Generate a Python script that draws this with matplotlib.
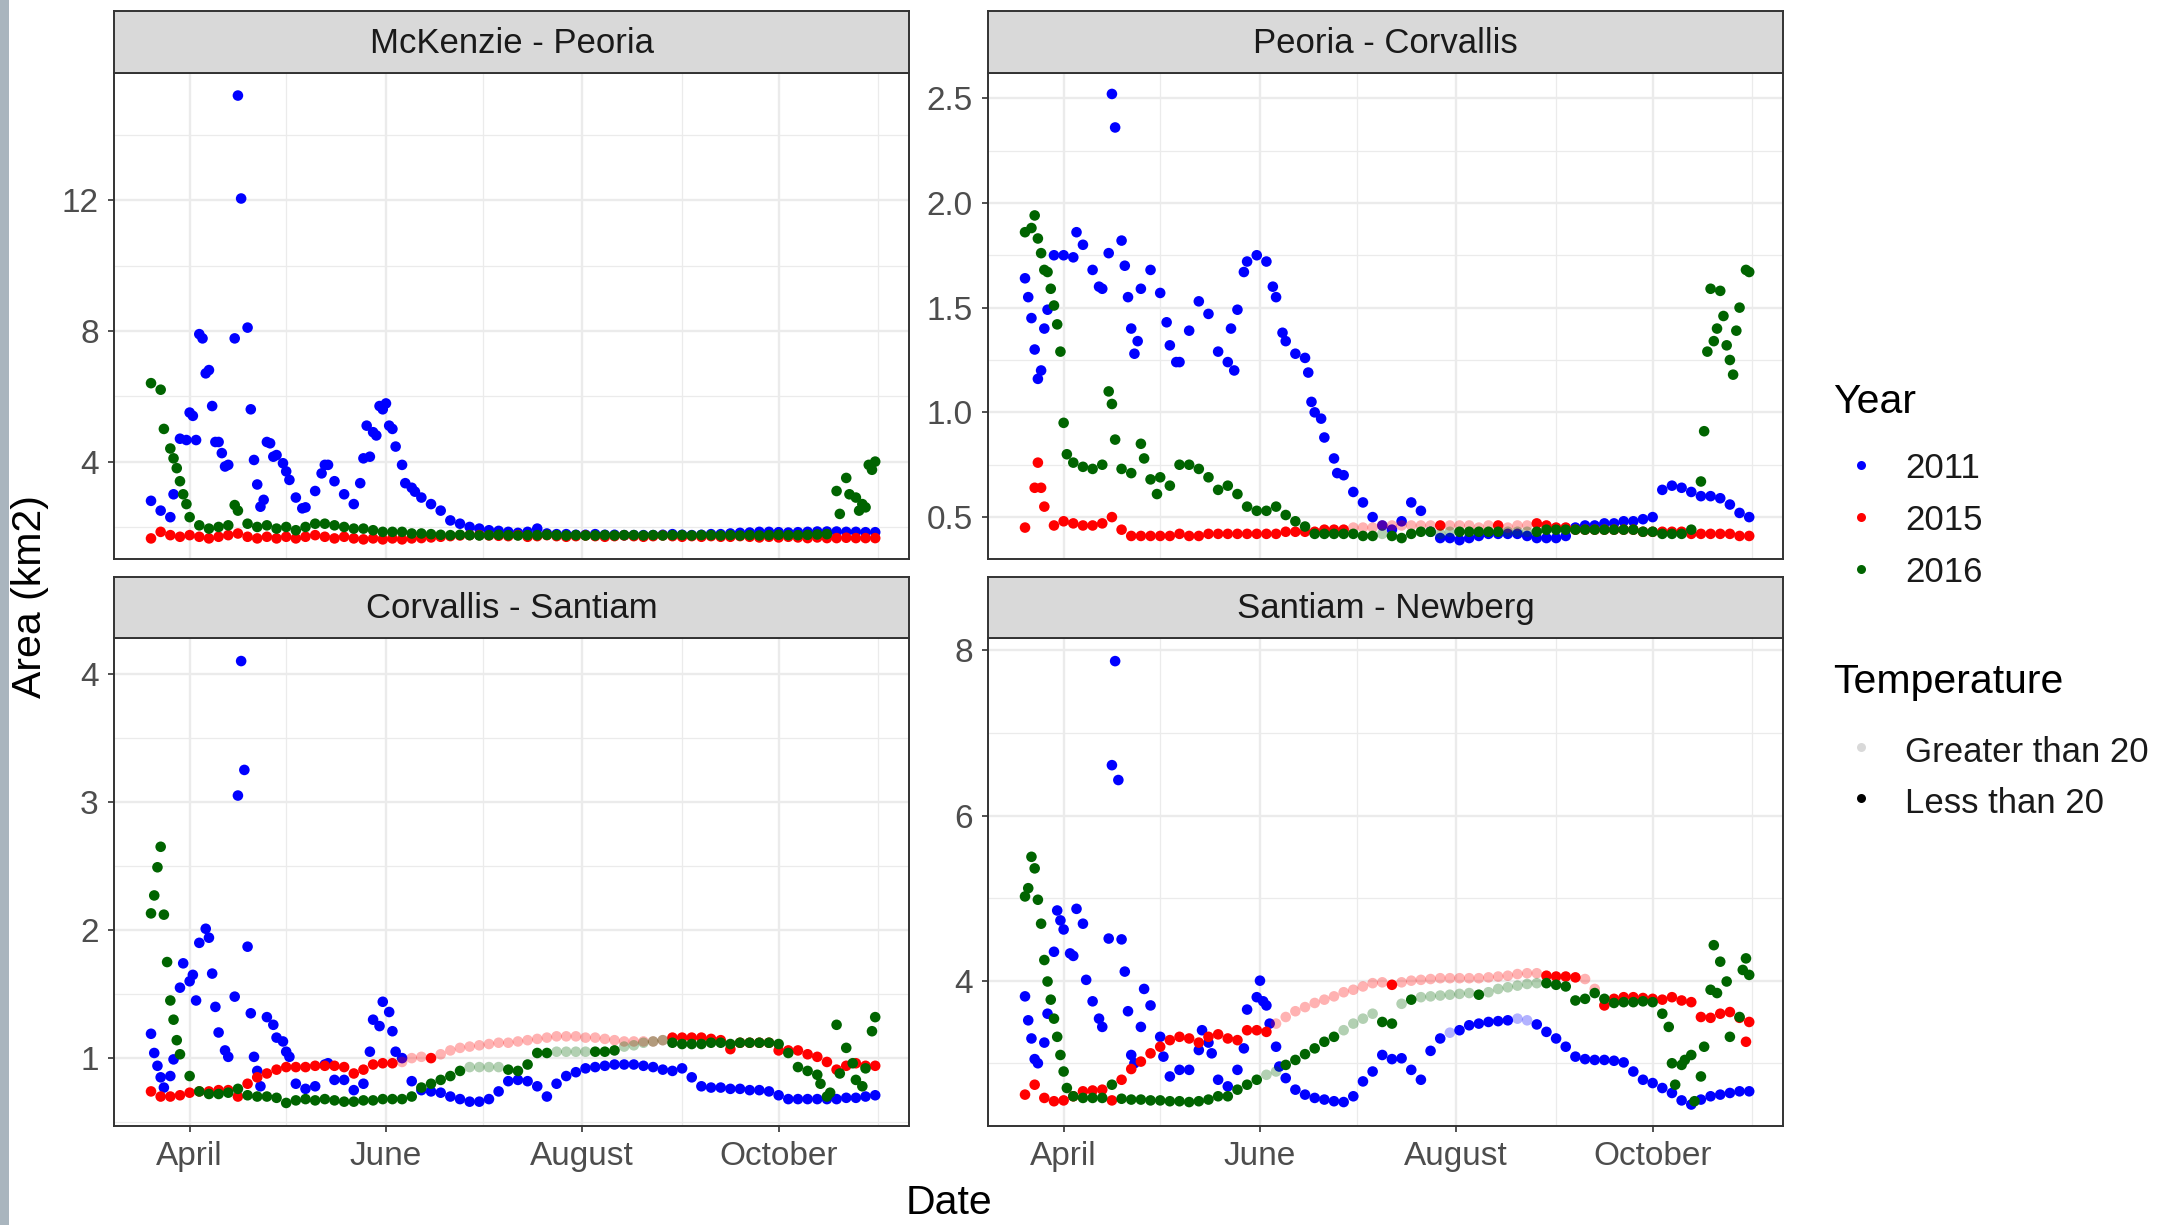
import numpy as np
import matplotlib
matplotlib.use("Agg")
import matplotlib.pyplot as plt
from matplotlib.colors import to_rgba
from matplotlib.patches import Rectangle

plt.rcParams['font.family'] = ['Liberation Sans', 'DejaVu Sans']

W, H = 2164, 1225

# sampling days, counted from 1 April (every third day, 20 March .. 31 October)
days = np.arange(-12, 214, 3)

month_major = [0, 61, 122, 183]
month_major_labels = ['April', 'June', 'August', 'October']
month_minor = [30, 91, 153, 214]

years = ['2011', '2015', '2016']
year_colors = ['#0000FF', '#FF0000', '#006400']

# ---- McKenzie - Peoria ----
mp_2011 = [2.8, 2.5, 2.3, 4.7, 5.5, 7.9, 6.8, 4.6, 3.9, 15.2,
           8.1, 3.3, 4.6, 4.2, 3.7, 2.9, 2.6, 3.1, 3.9, 3.4,
           3.0, 2.7, 4.1, 4.9, 5.6, 5.0, 3.9, 3.2, 2.9, 2.7,
           2.5, 2.2, 2.1, 2.0, 1.95, 1.9, 1.88, 1.85, 1.82, 1.85,
           1.95, 1.8, 1.78, 1.78, 1.76, 1.76, 1.78, 1.76, 1.76, 1.75,
           1.75, 1.75, 1.75, 1.76, 1.78, 1.76, 1.75, 1.76, 1.78, 1.78,
           1.8, 1.82, 1.83, 1.85, 1.85, 1.84, 1.83, 1.84, 1.85, 1.86,
           1.86, 1.86, 1.85, 1.85, 1.84, 1.84]
mp_2015 = [1.65, 1.85, 1.75, 1.7, 1.75, 1.7, 1.65, 1.7, 1.75, 1.8,
           1.7, 1.65, 1.7, 1.65, 1.7, 1.65, 1.7, 1.75, 1.7, 1.65,
           1.7, 1.65, 1.62, 1.65, 1.62, 1.65, 1.62, 1.65, 1.66, 1.68,
           1.7, 1.72, 1.74, 1.75, 1.75, 1.74, 1.73, 1.72, 1.75, 1.7,
           1.72, 1.75, 1.72, 1.7, 1.72, 1.74, 1.72, 1.7, 1.72, 1.74,
           1.72, 1.7, 1.72, 1.74, 1.72, 1.7, 1.72, 1.7, 1.72, 1.7,
           1.7, 1.72, 1.7, 1.68, 1.7, 1.68, 1.7, 1.68, 1.66, 1.68,
           1.66, 1.66, 1.67, 1.66, 1.66, 1.66]
mp_2016 = [6.4, 6.2, 4.4, 3.4, 2.3, 2.05, 1.95, 2.0, 2.05, 2.5,
           2.1, 2.0, 2.05, 1.95, 2.0, 1.9, 2.0, 2.1, 2.1, 2.05,
           2.0, 1.95, 1.95, 1.9, 1.85, 1.85, 1.85, 1.8, 1.8, 1.78,
           1.76, 1.75, 1.76, 1.75, 1.74, 1.75, 1.76, 1.75, 1.74, 1.75,
           1.75, 1.76, 1.75, 1.74, 1.75, 1.74, 1.74, 1.75, 1.74, 1.75,
           1.75, 1.74, 1.75, 1.74, 1.75, 1.75, 1.74, 1.75, 1.75, 1.74,
           1.75, 1.74, 1.75, 1.74, 1.75, 1.76, 1.75, 1.75, 1.76, 1.77,
           1.78, 3.1, 3.5, 2.9, 2.6, 4.0]
mp_extra_2011 = [(-5, 3.0), (-1, 4.66), (1, 5.4), (2, 4.66), (4, 7.77), (5, 6.7),
                 (7, 5.7), (8, 4.6), (10, 4.26), (11, 3.85), (14, 7.77), (16, 12.05),
                 (19, 5.6), (20, 4.05), (22, 2.62), (23, 2.83), (25, 4.56), (26, 4.15),
                 (29, 3.95), (31, 3.44), (35, 2.57), (41, 3.64), (43, 3.9), (53, 3.34),
                 (55, 5.1), (56, 4.15), (58, 4.8), (59, 5.7), (61, 5.78), (62, 5.1),
                 (64, 4.46), (67, 3.34), (70, 3.08)]
mp_extra_2016 = [(-8, 5.0), (-5, 4.1), (-4, 3.8), (-2, 3.0), (-1, 2.7), (14, 2.67),
                 (202, 2.4), (205, 3.0), (208, 2.5), (209, 2.7), (211, 3.9), (212, 3.75)]

# ---- Peoria - Corvallis ----
pc_2011 = [1.64, 1.30, 1.40, 1.75, 1.75, 1.74, 1.80, 1.68, 1.59, 2.52,
           1.82, 1.40, 1.59, 1.68, 1.57, 1.32, 1.24, 1.39, 1.53, 1.47,
           1.29, 1.24, 1.49, 1.72, 1.75, 1.72, 1.55, 1.34, 1.28, 1.26,
           1.00, 0.88, 0.78, 0.70, 0.62, 0.57, 0.50, 0.46, 0.44, 0.48,
           0.57, 0.53, 0.43, 0.40, 0.40, 0.39, 0.40, 0.41, 0.42, 0.42,
           0.42, 0.42, 0.41, 0.40, 0.40, 0.40, 0.41, 0.45, 0.46, 0.46,
           0.47, 0.47, 0.48, 0.48, 0.49, 0.50, 0.63, 0.65, 0.64, 0.62,
           0.60, 0.60, 0.59, 0.56, 0.52, 0.50]
pc_2015 = [0.45, 0.64, 0.55, 0.46, 0.48, 0.47, 0.46, 0.46, 0.47, 0.50,
           0.44, 0.41, 0.41, 0.41, 0.41, 0.41, 0.42, 0.41, 0.41, 0.42,
           0.42, 0.42, 0.42, 0.42, 0.42, 0.42, 0.42, 0.43, 0.43, 0.43,
           0.43, 0.44, 0.44, 0.44, 0.45, 0.45, 0.45, 0.46, 0.46, 0.46,
           0.46, 0.46, 0.46, 0.46, 0.46, 0.46, 0.46, 0.45, 0.46, 0.46,
           0.45, 0.46, 0.46, 0.47, 0.46, 0.45, 0.45, 0.44, 0.44, 0.44,
           0.44, 0.44, 0.44, 0.44, 0.43, 0.43, 0.43, 0.43, 0.43, 0.42,
           0.42, 0.42, 0.42, 0.42, 0.41, 0.41]
pc_2016 = [1.86, 1.94, 1.68, 1.51, 0.95, 0.76, 0.74, 0.73, 0.75, 1.04,
           0.73, 0.71, 0.85, 0.68, 0.69, 0.65, 0.75, 0.75, 0.73, 0.69,
           0.63, 0.65, 0.61, 0.55, 0.53, 0.53, 0.55, 0.51, 0.48, 0.455,
           0.42, 0.42, 0.42, 0.42, 0.42, 0.41, 0.41, 0.42, 0.41, 0.40,
           0.42, 0.43, 0.43, 0.42, 0.43, 0.43, 0.43, 0.43, 0.43, 0.43,
           0.43, 0.43, 0.43, 0.43, 0.44, 0.44, 0.44, 0.44, 0.44, 0.44,
           0.44, 0.44, 0.44, 0.44, 0.43, 0.43, 0.42, 0.42, 0.42, 0.44,
           0.67, 1.59, 1.58, 1.25, 1.50, 1.67]
pc_extra_2011 = [(-11, 1.55), (-10, 1.45), (-8, 1.16), (-7, 1.20), (-5, 1.49), (4, 1.86),
                 (11, 1.60), (14, 1.76), (16, 2.36), (19, 1.70), (20, 1.55), (22, 1.28),
                 (23, 1.34), (32, 1.43), (35, 1.24), (52, 1.40), (53, 1.20), (56, 1.67),
                 (65, 1.60), (68, 1.38), (76, 1.19), (77, 1.05), (80, 0.97), (85, 0.71)]
pc_extra_2015 = [(-8, 0.76), (-7, 0.64)]
pc_extra_2016 = [(-10, 1.88), (-8, 1.83), (-7, 1.76), (-5, 1.67), (-4, 1.59), (-2, 1.42),
                 (-1, 1.29), (1, 0.80), (14, 1.10), (16, 0.87), (25, 0.78), (29, 0.61),
                 (199, 0.91), (200, 1.29), (202, 1.34), (203, 1.40), (205, 1.46),
                 (206, 1.32), (208, 1.18), (209, 1.39), (212, 1.68)]
pc_hot_2015 = [(88, 114), (118, 134), (137, 145)]
pc_hot_2016 = [(99, 101), (116, 122), (136, 144)]

# ---- Corvallis - Santiam ----
cs_2011 = [1.19, 0.85, 0.86, 1.55, 1.60, 1.90, 1.94, 1.20, 1.01, 3.05,
           1.87, 0.90, 1.32, 1.16, 1.05, 0.80, 0.76, 0.78, 0.95, 0.83,
           0.83, 0.75, 0.80, 1.30, 1.44, 1.21, 1.00, 0.82, 0.75, 0.74,
           0.73, 0.70, 0.68, 0.66, 0.66, 0.68, 0.74, 0.82, 0.83, 0.82,
           0.78, 0.70, 0.80, 0.86, 0.89, 0.92, 0.93, 0.94, 0.95, 0.95,
           0.95, 0.94, 0.93, 0.91, 0.90, 0.92, 0.85, 0.78, 0.77, 0.77,
           0.76, 0.76, 0.75, 0.75, 0.74, 0.71, 0.68, 0.68, 0.68, 0.68,
           0.68, 0.68, 0.69, 0.69, 0.70, 0.71]
cs_2015 = [0.74, 0.70, 0.70, 0.71, 0.73, 0.74, 0.74, 0.75, 0.75, 0.70,
           0.80, 0.85, 0.88, 0.91, 0.93, 0.93, 0.93, 0.94, 0.94, 0.94,
           0.93, 0.88, 0.91, 0.95, 0.96, 0.96, 0.97, 1.00, 1.01, 1.00,
           1.03, 1.06, 1.08, 1.09, 1.10, 1.11, 1.12, 1.12, 1.13, 1.14,
           1.15, 1.16, 1.17, 1.17, 1.17, 1.16, 1.16, 1.15, 1.14, 1.13,
           1.13, 1.13, 1.13, 1.14, 1.16, 1.16, 1.16, 1.16, 1.15, 1.14,
           1.07, 1.12, 1.12, 1.12, 1.12, 1.06, 1.06, 1.06, 1.03, 1.01,
           0.97, 0.91, 0.94, 0.96, 0.94, 0.94]
cs_2016 = [2.13, 2.65, 1.45, 1.03, 0.86, 0.74, 0.72, 0.72, 0.73, 0.76,
           0.71, 0.70, 0.70, 0.69, 0.65, 0.67, 0.68, 0.67, 0.68, 0.67,
           0.66, 0.66, 0.67, 0.67, 0.68, 0.68, 0.68, 0.70, 0.77, 0.80,
           0.83, 0.86, 0.90, 0.93, 0.93, 0.93, 0.93, 0.91, 0.90, 0.95,
           1.04, 1.04, 1.05, 1.05, 1.05, 1.05, 1.05, 1.05, 1.06, 1.09,
           1.10, 1.12, 1.13, 1.14, 1.12, 1.11, 1.11, 1.11, 1.12, 1.12,
           1.11, 1.12, 1.12, 1.12, 1.12, 1.11, 1.04, 0.93, 0.90, 0.87,
           0.70, 1.26, 1.08, 0.83, 0.92, 1.32]
cs_extra_2011 = [(-11, 1.04), (-10, 0.94), (-8, 0.77), (-5, 0.99), (-2, 1.74), (1, 1.65),
                 (2, 1.45), (5, 2.01), (7, 1.66), (8, 1.40), (11, 1.06), (14, 1.48),
                 (16, 4.10), (17, 3.25), (19, 1.35), (20, 1.01), (22, 0.78), (26, 1.26),
                 (29, 1.13), (31, 1.01), (43, 0.96), (56, 1.05), (59, 1.25), (62, 1.36),
                 (64, 1.05)]
cs_extra_2016 = [(-11, 2.27), (-10, 2.49), (-8, 2.12), (-7, 1.75), (-5, 1.30), (-4, 1.14),
                 (196, 0.80), (199, 0.73), (202, 0.88), (206, 0.96), (209, 0.78), (212, 1.21)]
cs_hot_2015 = [(66, 74), (78, 99), (102, 149)]
cs_hot_2016 = [(85, 97), (113, 125), (133, 149)]

# ---- Santiam - Newberg ----
sn_2011 = [3.81, 3.05, 3.25, 4.35, 4.62, 4.30, 4.69, 3.75, 3.44, 6.61,
           4.50, 3.10, 3.44, 3.70, 3.32, 2.84, 2.92, 2.92, 3.16, 3.25,
           2.80, 2.72, 2.92, 3.65, 3.80, 3.70, 3.20, 2.82, 2.68, 2.62,
           2.58, 2.56, 2.54, 2.53, 2.60, 2.78, 2.90, 3.10, 3.05, 3.06,
           2.92, 2.80, 3.15, 3.30, 3.37, 3.40, 3.46, 3.48, 3.50, 3.51,
           3.52, 3.54, 3.52, 3.47, 3.38, 3.30, 3.20, 3.08, 3.05, 3.04,
           3.04, 3.03, 3.01, 2.90, 2.80, 2.76, 2.70, 2.64, 2.55, 2.50,
           2.56, 2.60, 2.62, 2.64, 2.66, 2.66]
sn_2015 = [2.62, 2.74, 2.58, 2.54, 2.55, 2.60, 2.66, 2.67, 2.68, 2.55,
           2.80, 2.93, 3.02, 3.12, 3.20, 3.28, 3.32, 3.30, 3.25, 3.32,
           3.35, 3.30, 3.28, 3.40, 3.40, 3.38, 3.48, 3.56, 3.63, 3.68,
           3.73, 3.77, 3.81, 3.86, 3.89, 3.93, 3.97, 3.98, 3.95, 3.98,
           4.00, 4.01, 4.02, 4.03, 4.03, 4.03, 4.03, 4.03, 4.04, 4.05,
           4.06, 4.08, 4.09, 4.09, 4.06, 4.05, 4.05, 4.04, 4.02, 3.90,
           3.70, 3.78, 3.80, 3.80, 3.79, 3.78, 3.77, 3.80, 3.76, 3.74,
           3.56, 3.55, 3.60, 3.62, 3.55, 3.50]
sn_2016 = [5.02, 5.36, 4.25, 3.54, 2.90, 2.60, 2.58, 2.58, 2.58, 2.74,
           2.57, 2.56, 2.56, 2.55, 2.55, 2.54, 2.54, 2.53, 2.54, 2.56,
           2.60, 2.60, 2.68, 2.74, 2.80, 2.86, 2.90, 2.98, 3.04, 3.11,
           3.18, 3.26, 3.32, 3.40, 3.48, 3.54, 3.60, 3.50, 3.48, 3.72,
           3.77, 3.80, 3.81, 3.82, 3.83, 3.84, 3.85, 3.83, 3.86, 3.90,
           3.92, 3.94, 3.96, 3.97, 3.97, 3.95, 3.93, 3.76, 3.78, 3.85,
           3.78, 3.73, 3.74, 3.74, 3.75, 3.74, 3.60, 3.00, 2.98, 3.10,
           2.84, 3.89, 4.23, 3.32, 3.56, 4.07]
sn_extra_2011 = [(-11, 3.52), (-10, 3.30), (-8, 3.00), (-5, 3.60), (-2, 4.85), (-1, 4.73),
                 (2, 4.33), (4, 4.87), (7, 4.01), (11, 3.54), (14, 4.51), (16, 7.87),
                 (17, 6.43), (19, 4.11), (20, 3.63), (22, 3.00), (25, 3.90), (31, 3.08),
                 (43, 3.40), (46, 3.12), (56, 3.18), (61, 4.00), (62, 3.75), (64, 3.48),
                 (67, 2.96)]
sn_extra_2015 = [(212, 3.26)]
sn_extra_2016 = [(-11, 5.12), (-10, 5.50), (-8, 4.98), (-7, 4.69), (-5, 3.99), (-4, 3.77),
                 (-2, 3.32), (-1, 3.10), (1, 2.70), (188, 3.44), (190, 2.74), (193, 3.04),
                 (196, 2.54), (199, 3.20), (202, 4.43), (203, 3.85), (206, 3.99),
                 (211, 4.13), (212, 4.27)]
sn_hot_2011 = [(118, 122), (141, 146)]
sn_hot_2015 = [(65, 99), (103, 148), (161, 166)]
sn_hot_2016 = [(62, 66), (85, 97), (104, 107), (110, 127), (132, 149)]

panels = [
    dict(title='McKenzie - Peoria', series=[mp_2011, mp_2015, mp_2016],
         extra=[mp_extra_2011, [], mp_extra_2016], hot=[[], [], []],
         ylim=(1.02, 15.89), yticks=[4, 8, 12], yminor=[2, 6, 10, 14], fmt='{:g}',
         box=(114, 73, 909, 559), strip=(114, 11, 909, 73), xlab=False),
    dict(title='Peoria - Corvallis', series=[pc_2011, pc_2015, pc_2016],
         extra=[pc_extra_2011, pc_extra_2015, pc_extra_2016],
         hot=[[], pc_hot_2015, pc_hot_2016],
         ylim=(0.30, 2.62), yticks=[0.5, 1.0, 1.5, 2.0, 2.5],
         yminor=[0.75, 1.25, 1.75, 2.25], fmt='{:.1f}',
         box=(988, 73, 1783, 559), strip=(988, 11, 1783, 73), xlab=False),
    dict(title='Corvallis - Santiam', series=[cs_2011, cs_2015, cs_2016],
         extra=[cs_extra_2011, [], cs_extra_2016], hot=[[], cs_hot_2015, cs_hot_2016],
         ylim=(0.47, 4.28), yticks=[1, 2, 3, 4], yminor=[0.5, 1.5, 2.5, 3.5], fmt='{:g}',
         box=(114, 638, 909, 1126), strip=(114, 577, 909, 638), xlab=True),
    dict(title='Santiam - Newberg', series=[sn_2011, sn_2015, sn_2016],
         extra=[sn_extra_2011, sn_extra_2015, sn_extra_2016],
         hot=[sn_hot_2011, sn_hot_2015, sn_hot_2016],
         ylim=(2.24, 8.15), yticks=[4, 6, 8], yminor=[3, 5, 7], fmt='{:g}',
         box=(988, 638, 1783, 1126), strip=(988, 577, 1783, 638), xlab=True),
]

BORDER = '#333333'
GRID = '#EBEBEB'
DOT = 58          # marker area (pt^2)
FADE = 0.3        # alpha for "Greater than 20"


def rect(b):
    x0, y0, x1, y1 = b
    return [x0 / W, 1 - y1 / H, (x1 - x0) / W, (y1 - y0) / H]


def is_hot(d, periods):
    return any(a <= d <= b for a, b in periods)


fig = plt.figure(figsize=(W / 100, H / 100), dpi=100)

for p in panels:
    ax = fig.add_axes(rect(p['box']))
    ax.set_xlim(-23.5, 223.5)
    ax.set_ylim(*p['ylim'])
    ax.set_xticks(month_major)
    ax.set_xticks(month_minor, minor=True)
    ax.set_yticks(p['yticks'])
    ax.set_yticks(p['yminor'], minor=True)
    ax.set_yticklabels([p['fmt'].format(t) for t in p['yticks']])
    ax.grid(which='major', color=GRID, lw=1.7)
    ax.grid(which='minor', color=GRID, lw=0.9)
    ax.set_axisbelow(True)
    ax.tick_params(which='minor', length=0)
    ax.tick_params(which='major', length=4, width=1.2, color=BORDER,
                   labelsize=24, labelcolor='#4D4D4D', pad=7)
    if p['xlab']:
        ax.set_xticklabels(month_major_labels)
    else:
        ax.tick_params(axis='x', which='major', length=0, labelbottom=False)
    for sp in ax.spines.values():
        sp.set_color(BORDER)
        sp.set_linewidth(1.4)

    # 2011 first, 2016 on top (data order)
    for vals, extra, hot, col in zip(p['series'], p['extra'], p['hot'], year_colors):
        d = np.concatenate([days, np.array([e[0] for e in extra], dtype=float)])
        v = np.concatenate([np.array(vals, dtype=float),
                            np.array([e[1] for e in extra], dtype=float)])
        rgba = [to_rgba(col, FADE if is_hot(x, hot) else 1.0) for x in d]
        ax.scatter(d, v, s=DOT, c=rgba, linewidths=0, zorder=3)

    sax = fig.add_axes(rect(p['strip']))
    sax.set_facecolor('#D9D9D9')
    sax.set_xticks([])
    sax.set_yticks([])
    for sp in sax.spines.values():
        sp.set_color(BORDER)
        sp.set_linewidth(1.4)
    sax.text(0.5, 0.48, p['title'], ha='center', va='center', fontsize=25,
             color='#1A1A1A', transform=sax.transAxes)

# axis titles
fig.text(30 / W, 1 - 597 / H, 'Area (km2)', rotation=90, ha='center', va='center',
         fontsize=29.5, color='black')
fig.text(949 / W, 1 - 1203 / H, 'Date', ha='center', va='center',
         fontsize=29.5, color='black')

# legends, drawn in pixel space
lax = fig.add_axes([0, 0, 1, 1], zorder=-1)
lax.set_xlim(0, W)
lax.set_ylim(H, 0)
lax.axis('off')
lax.add_patch(Rectangle((0, 0), 9, H, color='#A9B5BE', lw=0))

lax.text(1833, 413, 'Year', fontsize=29.5, va='baseline', ha='left')
for lab, col, yb in zip(years, year_colors, [478, 530, 582]):
    lax.scatter([1861], [yb - 13], s=42, color=col, linewidths=0)
    lax.text(1905, yb, lab, fontsize=25, va='baseline', ha='left', color='#1A1A1A')

lax.text(1833, 693, 'Temperature', fontsize=29.5, va='baseline', ha='left')
for lab, a, yb in zip(['Greater than 20', 'Less than 20'], [0.15, 1.0], [762, 813]):
    lax.scatter([1861], [yb - 15], s=42, color=to_rgba('black', a), linewidths=0)
    lax.text(1905, yb, lab, fontsize=25, va='baseline', ha='left', color='#1A1A1A')

fig.savefig('out.png', dpi=100)
